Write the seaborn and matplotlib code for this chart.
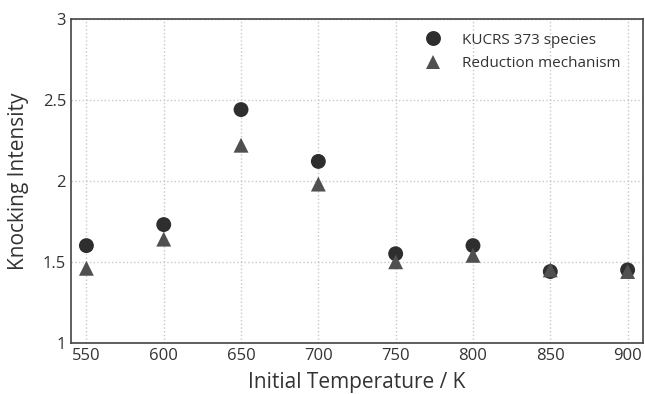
import numpy as np
import pandas as pd
import seaborn as sns
import matplotlib.pyplot as plt

# data
temps = [550, 600, 650, 700, 750, 800, 850, 900]
kucrs = [1.60, 1.73, 2.44, 2.12, 1.55, 1.60, 1.44, 1.45]
reduced = [1.46, 1.64, 2.22, 1.98, 1.50, 1.54, 1.45, 1.44]
series_names = ['KUCRS 373 species', 'Reduction mechanism']

df = pd.DataFrame({
    'T': temps * 2,
    'KI': kucrs + reduced,
    'model': [series_names[0]] * len(temps) + [series_names[1]] * len(temps),
})

sns.set_style('white')
plt.rcParams['font.family'] = ['Open Sans', 'DejaVu Sans']

fig, ax = plt.subplots(figsize=(6.45, 3.94), dpi=100)
sns.scatterplot(data=df, x='T', y='KI', hue='model', style='model',
                markers={series_names[0]: 'o', series_names[1]: '^'},
                palette={series_names[0]: '#2e2e2e', series_names[1]: '#505050'},
                s=115, linewidth=0, ax=ax, zorder=3)

ax.set_xlim(540, 910)
ax.set_ylim(1, 3)
ax.set_xticks(temps)
ax.set_yticks([1, 1.5, 2, 2.5, 3])
ax.set_yticklabels(['1', '1.5', '2', '2.5', '3'])
ax.grid(True, linestyle=':', color='#c8c8c8', linewidth=1)
ax.tick_params(direction='in', length=5, color='#333333', labelsize=12, labelcolor='#333333')
for sp in ax.spines.values():
    sp.set_color('#444444')
    sp.set_linewidth(1.2)
ax.set_xlabel('Initial Temperature / K', fontsize=15, color='#333333', labelpad=6)
ax.set_ylabel('Knocking Intensity', fontsize=15, color='#333333', labelpad=10)

leg = ax.legend(loc='upper right', bbox_to_anchor=(0.985, 1.0), frameon=False,
                fontsize=11, handletextpad=0.9, markerscale=1.0,
                borderaxespad=0.5, labelspacing=0.55)
for t in leg.get_texts():
    t.set_color('#333333')

fig.subplots_adjust(left=0.11, right=0.997, top=0.952, bottom=0.13)
fig.savefig('out.png', dpi=100)
